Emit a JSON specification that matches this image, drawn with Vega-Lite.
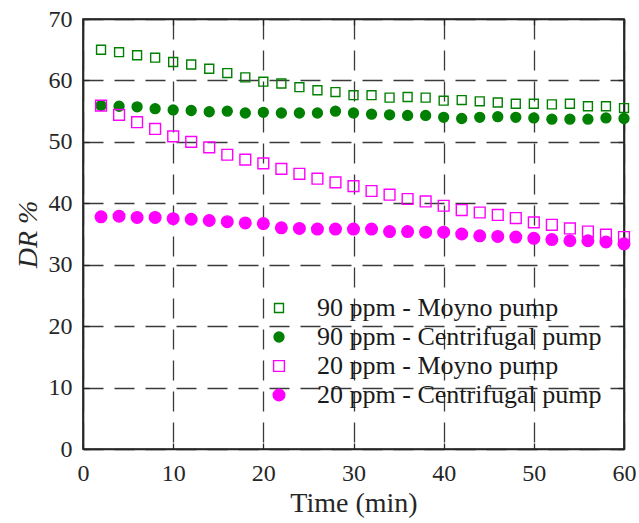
{
  "$schema": "https://vega.github.io/schema/vega-lite/v6.json",
  "autosize": "none",
  "padding": {"left": 83, "top": 19, "right": 15, "bottom": 75},
  "width": 541,
  "height": 430,
  "config": {
    "font": "Liberation Serif",
    "view": {"stroke": "#1a1a1a", "strokeWidth": 1.6}
  },
  "data": {
    "values": [
      {"time": 2, "series": "90 ppm - Moyno pump", "dr": 65.0},
      {"time": 4, "series": "90 ppm - Moyno pump", "dr": 64.6},
      {"time": 6, "series": "90 ppm - Moyno pump", "dr": 64.1},
      {"time": 8, "series": "90 ppm - Moyno pump", "dr": 63.7},
      {"time": 10, "series": "90 ppm - Moyno pump", "dr": 63.0},
      {"time": 12, "series": "90 ppm - Moyno pump", "dr": 62.6},
      {"time": 14, "series": "90 ppm - Moyno pump", "dr": 61.9},
      {"time": 16, "series": "90 ppm - Moyno pump", "dr": 61.2},
      {"time": 18, "series": "90 ppm - Moyno pump", "dr": 60.5},
      {"time": 20, "series": "90 ppm - Moyno pump", "dr": 59.8},
      {"time": 22, "series": "90 ppm - Moyno pump", "dr": 59.5},
      {"time": 24, "series": "90 ppm - Moyno pump", "dr": 58.9},
      {"time": 26, "series": "90 ppm - Moyno pump", "dr": 58.4},
      {"time": 28, "series": "90 ppm - Moyno pump", "dr": 58.1},
      {"time": 30, "series": "90 ppm - Moyno pump", "dr": 57.6},
      {"time": 32, "series": "90 ppm - Moyno pump", "dr": 57.6},
      {"time": 34, "series": "90 ppm - Moyno pump", "dr": 57.2},
      {"time": 36, "series": "90 ppm - Moyno pump", "dr": 57.3},
      {"time": 38, "series": "90 ppm - Moyno pump", "dr": 57.2},
      {"time": 40, "series": "90 ppm - Moyno pump", "dr": 56.7},
      {"time": 42, "series": "90 ppm - Moyno pump", "dr": 56.8},
      {"time": 44, "series": "90 ppm - Moyno pump", "dr": 56.6},
      {"time": 46, "series": "90 ppm - Moyno pump", "dr": 56.4},
      {"time": 48, "series": "90 ppm - Moyno pump", "dr": 56.2},
      {"time": 50, "series": "90 ppm - Moyno pump", "dr": 56.2},
      {"time": 52, "series": "90 ppm - Moyno pump", "dr": 56.1},
      {"time": 54, "series": "90 ppm - Moyno pump", "dr": 56.2},
      {"time": 56, "series": "90 ppm - Moyno pump", "dr": 55.8},
      {"time": 58, "series": "90 ppm - Moyno pump", "dr": 55.8},
      {"time": 60, "series": "90 ppm - Moyno pump", "dr": 55.5},

      {"time": 2, "series": "90 ppm - Centrifugal pump", "dr": 55.9},
      {"time": 4, "series": "90 ppm - Centrifugal pump", "dr": 55.8},
      {"time": 6, "series": "90 ppm - Centrifugal pump", "dr": 55.7},
      {"time": 8, "series": "90 ppm - Centrifugal pump", "dr": 55.4},
      {"time": 10, "series": "90 ppm - Centrifugal pump", "dr": 55.2},
      {"time": 12, "series": "90 ppm - Centrifugal pump", "dr": 55.1},
      {"time": 14, "series": "90 ppm - Centrifugal pump", "dr": 54.9},
      {"time": 16, "series": "90 ppm - Centrifugal pump", "dr": 55.0},
      {"time": 18, "series": "90 ppm - Centrifugal pump", "dr": 54.7},
      {"time": 20, "series": "90 ppm - Centrifugal pump", "dr": 54.8},
      {"time": 22, "series": "90 ppm - Centrifugal pump", "dr": 54.7},
      {"time": 24, "series": "90 ppm - Centrifugal pump", "dr": 54.7},
      {"time": 26, "series": "90 ppm - Centrifugal pump", "dr": 54.7},
      {"time": 28, "series": "90 ppm - Centrifugal pump", "dr": 55.0},
      {"time": 30, "series": "90 ppm - Centrifugal pump", "dr": 54.7},
      {"time": 32, "series": "90 ppm - Centrifugal pump", "dr": 54.5},
      {"time": 34, "series": "90 ppm - Centrifugal pump", "dr": 54.4},
      {"time": 36, "series": "90 ppm - Centrifugal pump", "dr": 54.3},
      {"time": 38, "series": "90 ppm - Centrifugal pump", "dr": 54.3},
      {"time": 40, "series": "90 ppm - Centrifugal pump", "dr": 54.0},
      {"time": 42, "series": "90 ppm - Centrifugal pump", "dr": 53.8},
      {"time": 44, "series": "90 ppm - Centrifugal pump", "dr": 54.0},
      {"time": 46, "series": "90 ppm - Centrifugal pump", "dr": 54.1},
      {"time": 48, "series": "90 ppm - Centrifugal pump", "dr": 54.0},
      {"time": 50, "series": "90 ppm - Centrifugal pump", "dr": 53.9},
      {"time": 52, "series": "90 ppm - Centrifugal pump", "dr": 53.7},
      {"time": 54, "series": "90 ppm - Centrifugal pump", "dr": 53.7},
      {"time": 56, "series": "90 ppm - Centrifugal pump", "dr": 53.7},
      {"time": 58, "series": "90 ppm - Centrifugal pump", "dr": 53.9},
      {"time": 60, "series": "90 ppm - Centrifugal pump", "dr": 53.8},

      {"time": 2, "series": "20 ppm - Moyno pump", "dr": 55.9},
      {"time": 4, "series": "20 ppm - Moyno pump", "dr": 54.4},
      {"time": 6, "series": "20 ppm - Moyno pump", "dr": 53.2},
      {"time": 8, "series": "20 ppm - Moyno pump", "dr": 52.1},
      {"time": 10, "series": "20 ppm - Moyno pump", "dr": 50.9},
      {"time": 12, "series": "20 ppm - Moyno pump", "dr": 50.0},
      {"time": 14, "series": "20 ppm - Moyno pump", "dr": 49.1},
      {"time": 16, "series": "20 ppm - Moyno pump", "dr": 47.9},
      {"time": 18, "series": "20 ppm - Moyno pump", "dr": 47.1},
      {"time": 20, "series": "20 ppm - Moyno pump", "dr": 46.5},
      {"time": 22, "series": "20 ppm - Moyno pump", "dr": 45.6},
      {"time": 24, "series": "20 ppm - Moyno pump", "dr": 44.8},
      {"time": 26, "series": "20 ppm - Moyno pump", "dr": 44.0},
      {"time": 28, "series": "20 ppm - Moyno pump", "dr": 43.4},
      {"time": 30, "series": "20 ppm - Moyno pump", "dr": 42.8},
      {"time": 32, "series": "20 ppm - Moyno pump", "dr": 42.0},
      {"time": 34, "series": "20 ppm - Moyno pump", "dr": 41.4},
      {"time": 36, "series": "20 ppm - Moyno pump", "dr": 40.7},
      {"time": 38, "series": "20 ppm - Moyno pump", "dr": 40.3},
      {"time": 40, "series": "20 ppm - Moyno pump", "dr": 39.6},
      {"time": 42, "series": "20 ppm - Moyno pump", "dr": 38.9},
      {"time": 44, "series": "20 ppm - Moyno pump", "dr": 38.5},
      {"time": 46, "series": "20 ppm - Moyno pump", "dr": 38.1},
      {"time": 48, "series": "20 ppm - Moyno pump", "dr": 37.6},
      {"time": 50, "series": "20 ppm - Moyno pump", "dr": 36.9},
      {"time": 52, "series": "20 ppm - Moyno pump", "dr": 36.5},
      {"time": 54, "series": "20 ppm - Moyno pump", "dr": 35.9},
      {"time": 56, "series": "20 ppm - Moyno pump", "dr": 35.4},
      {"time": 58, "series": "20 ppm - Moyno pump", "dr": 34.9},
      {"time": 60, "series": "20 ppm - Moyno pump", "dr": 34.5},

      {"time": 2, "series": "20 ppm - Centrifugal pump", "dr": 37.8},
      {"time": 4, "series": "20 ppm - Centrifugal pump", "dr": 37.9},
      {"time": 6, "series": "20 ppm - Centrifugal pump", "dr": 37.7},
      {"time": 8, "series": "20 ppm - Centrifugal pump", "dr": 37.7},
      {"time": 10, "series": "20 ppm - Centrifugal pump", "dr": 37.5},
      {"time": 12, "series": "20 ppm - Centrifugal pump", "dr": 37.4},
      {"time": 14, "series": "20 ppm - Centrifugal pump", "dr": 37.2},
      {"time": 16, "series": "20 ppm - Centrifugal pump", "dr": 37.0},
      {"time": 18, "series": "20 ppm - Centrifugal pump", "dr": 36.8},
      {"time": 20, "series": "20 ppm - Centrifugal pump", "dr": 36.7},
      {"time": 22, "series": "20 ppm - Centrifugal pump", "dr": 36.0},
      {"time": 24, "series": "20 ppm - Centrifugal pump", "dr": 35.9},
      {"time": 26, "series": "20 ppm - Centrifugal pump", "dr": 35.8},
      {"time": 28, "series": "20 ppm - Centrifugal pump", "dr": 35.8},
      {"time": 30, "series": "20 ppm - Centrifugal pump", "dr": 35.8},
      {"time": 32, "series": "20 ppm - Centrifugal pump", "dr": 35.8},
      {"time": 34, "series": "20 ppm - Centrifugal pump", "dr": 35.4},
      {"time": 36, "series": "20 ppm - Centrifugal pump", "dr": 35.4},
      {"time": 38, "series": "20 ppm - Centrifugal pump", "dr": 35.3},
      {"time": 40, "series": "20 ppm - Centrifugal pump", "dr": 35.3},
      {"time": 42, "series": "20 ppm - Centrifugal pump", "dr": 35.0},
      {"time": 44, "series": "20 ppm - Centrifugal pump", "dr": 34.7},
      {"time": 46, "series": "20 ppm - Centrifugal pump", "dr": 34.6},
      {"time": 48, "series": "20 ppm - Centrifugal pump", "dr": 34.5},
      {"time": 50, "series": "20 ppm - Centrifugal pump", "dr": 34.3},
      {"time": 52, "series": "20 ppm - Centrifugal pump", "dr": 34.1},
      {"time": 54, "series": "20 ppm - Centrifugal pump", "dr": 33.9},
      {"time": 56, "series": "20 ppm - Centrifugal pump", "dr": 33.9},
      {"time": 58, "series": "20 ppm - Centrifugal pump", "dr": 33.7},
      {"time": 60, "series": "20 ppm - Centrifugal pump", "dr": 33.4}
    ]
  },
  "layer": [
    {
      "mark": {"type": "point", "filled": false, "strokeWidth": 1.4, "opacity": 1},
      "encoding": {
        "x": {
          "field": "time",
          "type": "quantitative",
          "scale": {"domain": [0, 60], "nice": false, "padding": 0, "zero": false},
          "axis": {
            "values": [0, 10, 20, 30, 40, 50, 60],
            "title": "Time (min)",
            "labelFont": "Liberation Serif",
            "titleFont": "Liberation Serif",
            "labelFontSize": 24,
            "titleFontSize": 28,
            "titleFontWeight": "normal",
            "labelColor": "#262626",
            "titleColor": "#262626",
            "labelFlush": false,
            "labelOverlap": false,
            "labelPadding": 18,
            "titlePadding": 4,
            "domainColor": "#262626",
            "domainWidth": 1.6,
            "ticks": true,
            "tickSize": -6,
            "tickColor": "#262626",
            "tickWidth": 1.3,
            "grid": true,
            "gridColor": "#3a3a3a",
            "gridWidth": 1.3,
            "gridDash": [20, 11],
            "gridOpacity": 1
          }
        },
        "y": {
          "field": "dr",
          "type": "quantitative",
          "scale": {"domain": [0, 70], "nice": false, "padding": 0},
          "axis": {
            "values": [0, 10, 20, 30, 40, 50, 60, 70],
            "title": "DR %",
            "labelFont": "Liberation Serif",
            "titleFont": "Liberation Serif",
            "labelFontSize": 24,
            "titleFontSize": 28,
            "titleFontWeight": "normal",
            "titleFontStyle": "italic",
            "labelColor": "#262626",
            "titleColor": "#262626",
            "labelFlush": false,
            "labelOverlap": false,
            "labelPadding": 17,
            "titlePadding": 6,
            "domainColor": "#262626",
            "domainWidth": 1.6,
            "ticks": true,
            "tickSize": -6,
            "tickColor": "#262626",
            "tickWidth": 1.3,
            "grid": true,
            "gridColor": "#3a3a3a",
            "gridWidth": 1.3,
            "gridDash": [20, 11],
            "gridOpacity": 1
          }
        },
        "color": {
          "field": "series",
          "type": "nominal",
          "scale": {
            "domain": ["90 ppm - Moyno pump", "90 ppm - Centrifugal pump", "20 ppm - Moyno pump", "20 ppm - Centrifugal pump"],
            "range": ["#008000", "#008000", "#ff00ff", "#ff00ff"]
          },
          "legend": {
            "title": null,
            "orient": "none",
            "legendX": 183,
            "legendY": 276,
            "rowPadding": 3,
            "labelOffset": 25,
            "labelLimit": 0,
            "labelFont": "Liberation Serif",
            "labelFontSize": 26,
            "labelColor": "#1a1a1a",
            "symbolStrokeWidth": 1.4
          }
        },
        "fill": {
          "field": "series",
          "type": "nominal",
          "scale": {
            "domain": ["90 ppm - Moyno pump", "90 ppm - Centrifugal pump", "20 ppm - Moyno pump", "20 ppm - Centrifugal pump"],
            "range": ["transparent", "#008000", "transparent", "#ff00ff"]
          },
          "legend": null
        },
        "shape": {
          "field": "series",
          "type": "nominal",
          "scale": {
            "domain": ["90 ppm - Moyno pump", "90 ppm - Centrifugal pump", "20 ppm - Moyno pump", "20 ppm - Centrifugal pump"],
            "range": ["square", "circle", "square", "circle"]
          },
          "legend": null
        },
        "size": {
          "field": "series",
          "type": "nominal",
          "scale": {
            "domain": ["90 ppm - Moyno pump", "90 ppm - Centrifugal pump", "20 ppm - Moyno pump", "20 ppm - Centrifugal pump"],
            "range": [80, 135, 80, 135]
          },
          "legend": null
        }
      }
    },
    {
      "mark": {"type": "point", "opacity": 0},
      "encoding": {
        "x": {
          "field": "time",
          "type": "quantitative",
          "axis": {
            "orient": "top",
            "values": [0, 10, 20, 30, 40, 50, 60],
            "labels": false,
            "title": null,
            "grid": false,
            "domainColor": "#262626",
            "domainWidth": 1.6,
            "ticks": true,
            "tickSize": -6,
            "tickColor": "#262626",
            "tickWidth": 1.3
          }
        },
        "y": {
          "field": "dr",
          "type": "quantitative",
          "axis": {
            "orient": "right",
            "values": [0, 10, 20, 30, 40, 50, 60, 70],
            "labels": false,
            "title": null,
            "grid": false,
            "domainColor": "#262626",
            "domainWidth": 1.6,
            "ticks": true,
            "tickSize": -6,
            "tickColor": "#262626",
            "tickWidth": 1.3
          }
        }
      }
    }
  ],
  "resolve": {"axis": {"x": "independent", "y": "independent"}}
}
